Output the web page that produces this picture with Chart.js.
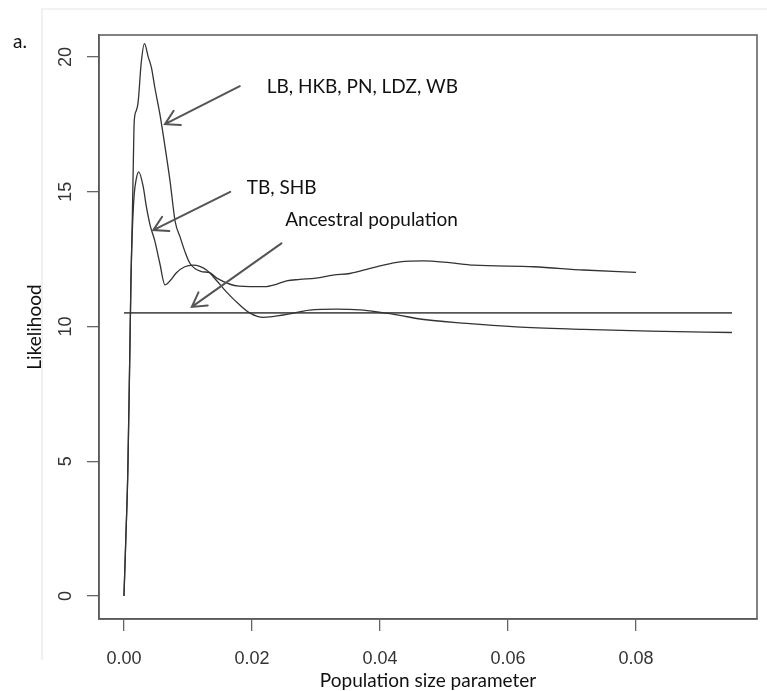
<!DOCTYPE html>
<html>
<head>
<meta charset="utf-8">
<title>Likelihood vs population size parameter</title>
<script src="https://cdn.jsdelivr.net/npm/chart.js@4.4.1/dist/chart.umd.min.js"></script>
<style>
  html, body { margin: 0; padding: 0; background: #ffffff; }
  #wrap { width: 767px; height: 691px; position: relative; }
</style>
</head>
<body>
<div id="wrap"><canvas id="chart" width="767" height="691"></canvas></div>
<script>
// Likelihood profile: LB, HKB, PN, LDZ, WB
const lbX = [0, 0.0003, 0.0006, 0.0009, 0.0011, 0.0013, 0.00146, 0.0016, 0.0019, 0.0022, 0.0027, 0.0032,
             0.0038, 0.0043, 0.0048, 0.0056, 0.0064, 0.0072, 0.008, 0.0088, 0.0095, 0.0103, 0.012, 0.0134,
             0.0145, 0.018, 0.022, 0.0238, 0.0254, 0.0275, 0.030, 0.0327, 0.0353, 0.0379, 0.0405, 0.0431,
             0.0468, 0.0509, 0.0546, 0.064, 0.0718, 0.080];
const lbY = [0, 2.2, 4.6, 8.8, 11.8, 14.0, 16.05, 17.6, 18.0, 18.3, 19.8, 20.5,
             20.0, 19.6, 18.9, 17.9, 16.7, 15.4, 13.9, 13.3, 12.8, 12.35, 12.05, 12.0,
             11.8, 11.5, 11.48, 11.57, 11.7, 11.75, 11.8, 11.91, 11.97, 12.12, 12.28, 12.4,
             12.44, 12.37, 12.28, 12.22, 12.1, 12.01];

// Likelihood profile: TB, SHB
const tbX = [0, 0.0003, 0.0006, 0.0009, 0.0011, 0.0013, 0.0016, 0.0019, 0.0023, 0.003, 0.0035, 0.0041,
             0.0048, 0.0056, 0.0064, 0.0072, 0.0082, 0.0095, 0.0108, 0.0129, 0.0145, 0.016, 0.0181, 0.0197,
             0.0218, 0.0249, 0.029, 0.0332, 0.0369, 0.0405, 0.0431, 0.0457, 0.0535, 0.0613, 0.0718, 0.0822, 0.095];
const tbY = [0, 2.2, 4.6, 8.8, 11.8, 13.5, 14.9, 15.45, 15.74, 15.2, 14.45, 13.75,
             13.2, 12.35, 11.55, 11.7, 12.0, 12.22, 12.28, 12.1, 11.7, 11.29, 10.8, 10.5,
             10.34, 10.43, 10.61, 10.65, 10.62, 10.51, 10.42, 10.3, 10.12, 9.99, 9.9, 9.83, 9.78];

// Ancestral population reference level
const ancX = [0, 0.095];
const ancY = [10.51, 10.51];

// Axis ticks
const xTicks = [0, 0.02, 0.04, 0.06, 0.08];
const xTickLabels = ['0.00', '0.02', '0.04', '0.06', '0.08'];
const yTicks = [0, 5, 10, 15, 20];
const yTickLabels = ['0', '5', '10', '15', '20'];

// Text
const seriesNames = ['LB, HKB, PN, LDZ, WB', 'TB, SHB', 'Ancestral population'];
const xTitle = 'Population size parameter';
const yTitle = 'Likelihood';
const panelTag = 'a.';

const toPoints = (xs, ys) => xs.map((x, i) => ({ x: x, y: ys[i] }));

// Arrow callouts, in data units: label anchor, arrow tail and arrow head
const callouts = [
  { text: seriesNames[0], tx: 0.0223, ty: 18.9, x1: 0.0181, y1: 18.92, x2: 0.0064, y2: 17.51 },
  { text: seriesNames[1], tx: 0.0192, ty: 15.14, x1: 0.0166, y1: 15.0, x2: 0.00458, y2: 13.58 },
  { text: seriesNames[2], tx: 0.0252, ty: 13.95, x1: 0.0246, y1: 13.09, x2: 0.0106, y2: 10.73 }
];

const TEXT_FONT = '"Lato", "Open Sans", sans-serif';
const TICK_FONT = '"Liberation Sans", Arial, sans-serif';

const decorations = {
  id: 'decorations',
  afterDraw(chart) {
    const ctx = chart.ctx;
    const area = chart.chartArea;
    const xs = chart.scales.x;
    const ys = chart.scales.y;
    ctx.save();

    // faint page frame
    ctx.strokeStyle = '#e6e6e6';
    ctx.lineWidth = 1.2;
    ctx.beginPath();
    ctx.moveTo(42, 660);
    ctx.lineTo(42, 9);
    ctx.lineTo(767, 9);
    ctx.stroke();

    // plot box
    ctx.strokeStyle = '#5a5a5a';
    ctx.lineWidth = 1.5;
    ctx.strokeRect(area.left, area.top, area.right - area.left, area.bottom - area.top);

    // tick labels
    ctx.fillStyle = '#333333';
    ctx.font = '18px ' + TICK_FONT;
    ctx.textAlign = 'center';
    ctx.textBaseline = 'middle';
    xTicks.forEach((v, i) => {
      ctx.fillText(xTickLabels[i], xs.getPixelForValue(v), area.bottom + 40);
    });
    yTicks.forEach((v, i) => {
      ctx.save();
      ctx.translate(area.left - 33, ys.getPixelForValue(v));
      ctx.rotate(-Math.PI / 2);
      ctx.fillText(yTickLabels[i], 0, 0);
      ctx.restore();
    });

    // axis titles
    ctx.fillStyle = '#111111';
    ctx.font = '19px ' + TEXT_FONT;
    ctx.fillText(xTitle, (area.left + area.right) / 2, area.bottom + 62);
    ctx.save();
    ctx.translate(35, (area.top + area.bottom) / 2);
    ctx.rotate(-Math.PI / 2);
    ctx.fillText(yTitle, 0, 0);
    ctx.restore();

    // panel tag
    ctx.font = '19px ' + TEXT_FONT;
    ctx.fillText(panelTag, 20, 42);

    // callouts
    callouts.forEach(c => {
      const px1 = xs.getPixelForValue(c.x1), py1 = ys.getPixelForValue(c.y1);
      const px2 = xs.getPixelForValue(c.x2), py2 = ys.getPixelForValue(c.y2);
      ctx.strokeStyle = '#555555';
      ctx.lineWidth = 2;
      ctx.lineCap = 'round';
      ctx.beginPath();
      ctx.moveTo(px1, py1);
      ctx.lineTo(px2, py2);
      const ang = Math.atan2(py1 - py2, px1 - px2);
      const len = 16, spread = Math.PI / 6;
      ctx.moveTo(px2 + len * Math.cos(ang + spread), py2 + len * Math.sin(ang + spread));
      ctx.lineTo(px2, py2);
      ctx.lineTo(px2 + len * Math.cos(ang - spread), py2 + len * Math.sin(ang - spread));
      ctx.stroke();

      ctx.fillStyle = '#111111';
      ctx.font = '19px ' + TEXT_FONT;
      ctx.textAlign = 'left';
      ctx.textBaseline = 'middle';
      ctx.fillText(c.text, xs.getPixelForValue(c.tx), ys.getPixelForValue(c.ty));
      ctx.textAlign = 'center';
    });

    ctx.restore();
  }
};

const curveStyle = {
  borderColor: '#333333',
  borderWidth: 1.3,
  pointRadius: 0,
  fill: false,
  cubicInterpolationMode: 'monotone'
};

new Chart(document.getElementById('chart'), {
  type: 'line',
  data: {
    datasets: [
      Object.assign({ label: seriesNames[0], data: toPoints(lbX, lbY) }, curveStyle),
      Object.assign({ label: seriesNames[1], data: toPoints(tbX, tbY) }, curveStyle),
      { label: seriesNames[2], data: toPoints(ancX, ancY), borderColor: '#555555', borderWidth: 1.6,
        pointRadius: 0, fill: false, tension: 0 }
    ]
  },
  options: {
    responsive: false,
    devicePixelRatio: 1,
    animation: false,
    layout: { padding: { left: 0, top: 35, right: 10, bottom: 0 } },
    plugins: { legend: { display: false }, tooltip: { enabled: false } },
    scales: {
      x: {
        type: 'linear',
        min: -0.0039,
        max: 0.0989,
        afterBuildTicks: s => { s.ticks = xTicks.map(v => ({ value: v })); },
        afterFit: s => { s.height = 72; },
        ticks: { display: false },
        grid: { drawOnChartArea: false, drawTicks: true, tickLength: 12, color: '#666666', lineWidth: 1.3 },
        border: { display: true, color: '#5a5a5a', width: 1.5 }
      },
      y: {
        type: 'linear',
        min: -0.85,
        max: 20.82,
        afterBuildTicks: s => { s.ticks = yTicks.map(v => ({ value: v })); },
        afterFit: s => { s.width = 99; },
        ticks: { display: false },
        grid: { drawOnChartArea: false, drawTicks: true, tickLength: 12, color: '#666666', lineWidth: 1.3 },
        border: { display: true, color: '#5a5a5a', width: 1.5 }
      }
    }
  },
  plugins: [decorations]
});
</script>
</body>
</html>
